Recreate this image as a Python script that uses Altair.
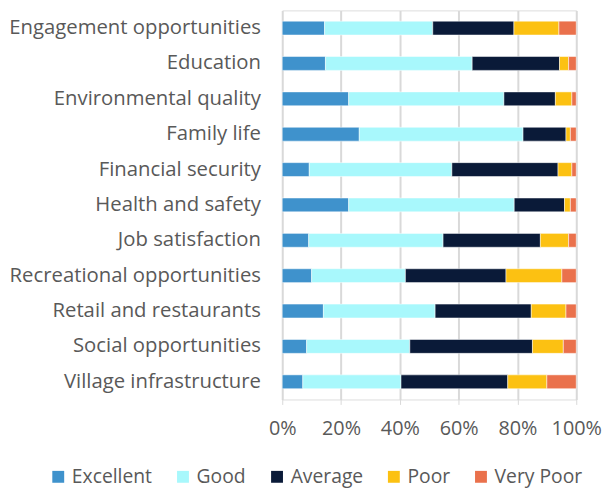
import altair as alt
import pandas as pd

categories = ["Engagement opportunities", "Education", "Environmental quality", "Family life",
              "Financial security", "Health and safety", "Job satisfaction",
              "Recreational opportunities", "Retail and restaurants", "Social opportunities",
              "Village infrastructure"]
ratings = ["Excellent", "Good", "Average", "Poor", "Very Poor"]
colors = ["#3f92cc", "#a8f8fc", "#0a1a38", "#fcc112", "#ea714c"]

excellent = [14.4, 14.7, 22.6, 26.2, 9.2, 22.6, 9.0, 10.0, 14.0, 8.3, 7.0]
good      = [36.8, 49.9, 52.8, 55.7, 48.5, 56.3, 45.7, 31.9, 38.0, 35.1, 33.4]
average   = [27.6, 29.7, 17.5, 14.6, 36.1, 17.1, 33.1, 34.2, 32.7, 41.7, 36.3]
poor      = [15.3, 3.1, 5.6, 1.5, 4.7, 2.0, 9.6, 19.0, 11.8, 10.5, 13.3]
very_poor = [5.9, 2.6, 1.5, 2.0, 1.5, 2.0, 2.6, 4.9, 3.5, 4.4, 10.0]

series = [excellent, good, average, poor, very_poor]
rows = []
for r_i, (rating, vals) in enumerate(zip(ratings, series)):
    for c, v in zip(categories, vals):
        rows.append({"category": c, "rating": rating, "value": v, "order": r_i})
df = pd.DataFrame(rows)

font = "Open Sans"
gray = "#595959"

chart = alt.Chart(df).mark_bar(size=14, stroke="#ffffff", strokeWidth=0.5).encode(
    y=alt.Y("category:N", sort=categories, title=None,
            axis=alt.Axis(ticks=False, domain=False, labelFont=font, labelFontSize=20.5,
                          labelColor=gray, labelPadding=22, labelLimit=400)),
    x=alt.X("value:Q", stack="normalize", title=None,
            scale=alt.Scale(domain=[0, 1]),
            axis=alt.Axis(format=".0%", values=[0, 0.2, 0.4, 0.6, 0.8, 1.0],
                          labelFont=font, labelFontSize=20, labelColor=gray,
                          labelPadding=14, domain=False, tickSize=5, tickColor="#d9d9d9",
                          gridColor="#d9d9d9", gridWidth=2, labelFlush=False)),
    color=alt.Color("rating:N", sort=ratings,
                    scale=alt.Scale(domain=ratings, range=colors),
                    legend=alt.Legend(title=None, orient="none", direction="horizontal",
                                      legendX=-236, legendY=461, columns=5,
                                      symbolType="square", symbolSize=144,
                                      symbolStrokeWidth=0,
                                      labelFont=font, labelFontSize=19.5, labelColor=gray,
                                      columnPadding=21, labelOffset=4)),
    order=alt.Order("order:Q"),
).properties(width=297, height=393,
             padding={"left": 0, "top": 0, "right": 0, "bottom": 0}
).configure_view(stroke=None).configure(background="white")

chart.save("out.html", embed_options={"renderer": "svg", "actions": False})
